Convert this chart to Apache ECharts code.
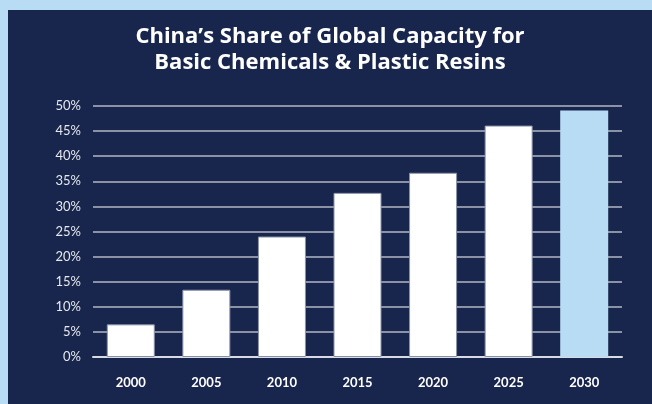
<!DOCTYPE html>
<html>
<head>
<meta charset="utf-8">
<script src="https://cdn.jsdelivr.net/npm/echarts@6/dist/echarts.min.js"></script>
<style>
  html, body { margin:0; padding:0; width:652px; height:404px; background:#b7dcf4; overflow:hidden; }
  #chart { position:absolute; left:8px; top:10px; width:644px; height:394px; background:#18264d; }
</style>
</head>
<body>
<div id="chart"></div>
<script>
const categories = ['2000', '2005', '2010', '2015', '2020', '2025', '2030'];
const shareValues = [6.5, 13.4, 24.0, 32.7, 36.7, 46.1, 49.1];
const yTickLabels = ['0%', '5%', '10%', '15%', '20%', '25%', '30%', '35%', '40%', '45%', '50%'];
const titleLines = ['China\u2019s Share of Global Capacity for', 'Basic Chemicals & Plastic Resins'];

const chart = echarts.init(document.getElementById('chart'));
chart.setOption({
  animation: false,
  title: {
    text: titleLines.join('\n'),
    left: 'center',
    top: 14,
    padding: [0, 0, 0, 8],
    textStyle: { color: '#ffffff', fontFamily: 'Open Sans', fontWeight: 'bold', fontSize: 22, lineHeight: 26 }
  },
  grid: { left: 85, right: 30, top: 96, bottom: 47 },
  xAxis: {
    type: 'category',
    data: categories,
    axisLine: { show: true, lineStyle: { color: '#d8dbe3', width: 2 } },
    axisTick: { show: false },
    axisLabel: { color: '#ffffff', fontFamily: 'Lato', fontWeight: 'bold', fontSize: 13, margin: 19 }
  },
  yAxis: {
    type: 'value',
    min: 0, max: 50, interval: 5,
    axisLine: { show: false },
    axisTick: { show: false },
    splitLine: { lineStyle: { color: '#b3b7c4', width: 1.5 } },
    axisLabel: {
      color: '#e6e8ee', fontFamily: 'Lato', fontSize: 13, margin: 12,
      formatter: function (v) { return yTickLabels[Math.round(v / 5)]; }
    }
  },
  series: [{
    type: 'bar',
    barWidth: 48,
    data: shareValues.map(function (v, i) {
      return {
        value: v,
        itemStyle: i === shareValues.length - 1
          ? { color: '#b7dcf4' }
          : { color: '#ffffff', borderColor: '#8a92aa', borderWidth: 1 }
      };
    })
  }]
});
</script>
</body>
</html>
